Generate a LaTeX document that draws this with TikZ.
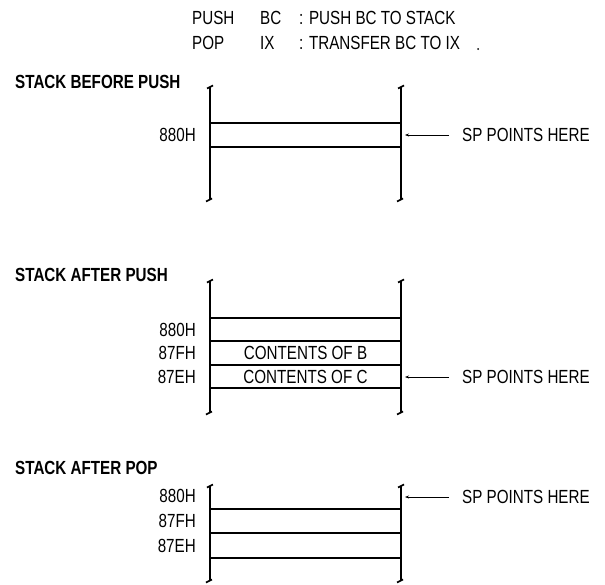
\documentclass[tikz,border=0pt]{standalone}
\usepackage{fontspec}
\usepackage{tikz}
\usetikzlibrary{arrows.meta,positioning}
\newfontfamily\stackfont{Liberation Sans}[FakeStretch=0.8]
\tikzset{
  codetext/.style={
    inner sep=0pt,
    anchor=west,
    font=\stackfont\fontsize{19}{21}\selectfont
  },
  stacktitle/.style={codetext, font=\stackfont\bfseries\fontsize{19}{21}\selectfont},
  addrlabel/.style={codetext, anchor=east},
  celltext/.style={codetext, anchor=center},
  post/.style={line width=1.7pt},
  shelf/.style={line width=1.4pt},
  sparrow/.style={-{Stealth[length=4pt,width=3pt]}, line width=0.7pt, shorten <=13pt}
}

\begin{document}
\begin{tikzpicture}[x=1pt, y=-1pt]
\useasboundingbox (0,0) rectangle (605,584);
% program lines
\node[codetext] (push) at (192,18) {PUSH};
\node[codetext] (pushreg) at (260,18) {BC};
\node[codetext] (pushnote) at (299,18) {: PUSH BC TO STACK};
\node[codetext] (pop) at (192,43) {POP};
\node[codetext] (popreg) at (260,43) {IX};
\node[codetext] (popnote) at (299,43) {: TRANSFER BC TO IX};
\fill (478,49) circle (1pt);

% stack before push
\node[stacktitle] (before) at (15,82) {STACK BEFORE PUSH};
\draw[post] (207,88.5) -- (213,85.5) (210,87) -- (210,200) (206,201.5) -- (212,198.5);
\draw[post] (398,88.5) -- (404,85.5) (401,87) -- (401,200) (397,201.5) -- (403,198.5);
\draw[shelf] (210,123) -- (401,123);
\draw[shelf] (210,147) -- (401,147);
\node[addrlabel] (b880) at (196,135) {880H};
\node[codetext] (sp1) at (462,135) {SP POINTS HERE};
\coordinate (tip1) at (405,135);
\draw[sparrow] (sp1) -- (tip1);

% stack after push
\node[stacktitle] (afterpush) at (15,275) {STACK AFTER PUSH};
\draw[post] (207,282.5) -- (213,279.5) (210,281) -- (210,413) (206,414.5) -- (212,411.5);
\draw[post] (398,282.5) -- (404,279.5) (401,281) -- (401,413) (397,414.5) -- (403,411.5);
\draw[shelf] (210,318) -- (401,318);
\draw[shelf] (210,341) -- (401,341);
\draw[shelf] (210,365) -- (401,365);
\draw[shelf] (210,388) -- (401,388);
\node[addrlabel] (p880) at (196,330) {880H};
\node[addrlabel] (p87f) at (196,353) {87FH};
\node[addrlabel] (p87e) at (196,377) {87EH};
\node[celltext] (cellb) at (305.5,353) {CONTENTS OF B};
\node[celltext] (cellc) at (305.5,377) {CONTENTS OF C};
\node[codetext] (sp2) at (462,377) {SP POINTS HERE};
\coordinate (tip2) at (405,377);
\draw[sparrow] (sp2) -- (tip2);

% stack after pop
\node[stacktitle] (afterpop) at (15,468) {STACK AFTER POP};
\draw[post] (207,487.5) -- (213,484.5) (210,486) -- (210,581) (206,582.5) -- (212,579.5);
\draw[post] (398,487.5) -- (404,484.5) (401,486) -- (401,581) (397,582.5) -- (403,579.5);
\draw[shelf] (210,509) -- (401,509);
\draw[shelf] (210,533) -- (401,533);
\draw[shelf] (210,558) -- (401,558);
\node[addrlabel] (q880) at (196,496) {880H};
\node[addrlabel] (q87f) at (196,521) {87FH};
\node[addrlabel] (q87e) at (196,546) {87EH};
\node[codetext] (sp3) at (462,497) {SP POINTS HERE};
\coordinate (tip3) at (405,497);
\draw[sparrow] (sp3) -- (tip3);
\end{tikzpicture}
\end{document}
